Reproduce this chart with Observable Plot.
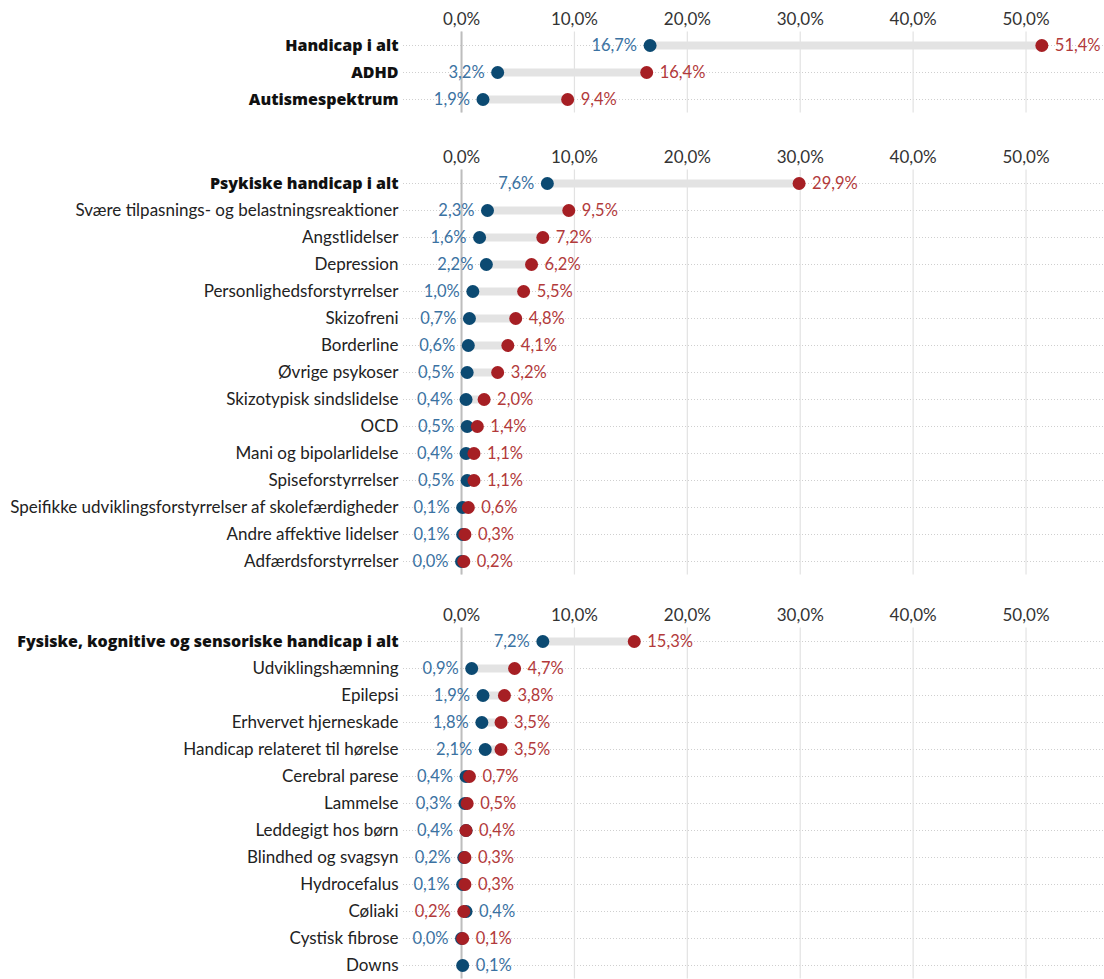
<!DOCTYPE html>
<html><head><meta charset="utf-8">
<script src="https://cdn.jsdelivr.net/npm/d3@7"></script>
<script src="https://cdn.jsdelivr.net/npm/@observablehq/plot@0.6"></script>
<style>
body{margin:0;background:#fff;font-family:Lato,sans-serif}
svg{display:block}
</style>
</head><body><div id="chart"></div>
<script>
// ---- Data ----
const panel1Names = ["Handicap i alt", "ADHD", "Autismespektrum"];
const panel1Blue  = [16.7, 3.2, 1.9];
const panel1Red   = [51.4, 16.4, 9.4];

const panel2Names = ["Psykiske handicap i alt", "Svære tilpasnings- og belastningsreaktioner", "Angstlidelser",
  "Depression", "Personlighedsforstyrrelser", "Skizofreni", "Borderline", "Øvrige psykoser",
  "Skizotypisk sindslidelse", "OCD", "Mani og bipolarlidelse", "Spiseforstyrrelser",
  "Speifikke udviklingsforstyrrelser af skolefærdigheder", "Andre affektive lidelser", "Adfærdsforstyrrelser"];
const panel2Blue = [7.6, 2.3, 1.6, 2.2, 1.0, 0.7, 0.6, 0.5, 0.4, 0.5, 0.4, 0.5, 0.1, 0.1, 0.0];
const panel2Red  = [29.9, 9.5, 7.2, 6.2, 5.5, 4.8, 4.1, 3.2, 2.0, 1.4, 1.1, 1.1, 0.6, 0.3, 0.2];

const panel3Names = ["Fysiske, kognitive og sensoriske handicap i alt", "Udviklingshæmning", "Epilepsi",
  "Erhvervet hjerneskade", "Handicap relateret til hørelse", "Cerebral parese", "Lammelse",
  "Leddegigt hos børn", "Blindhed og svagsyn", "Hydrocefalus", "Cøliaki", "Cystisk fibrose", "Downs"];
const panel3Blue = [7.2, 0.9, 1.9, 1.8, 2.1, 0.4, 0.3, 0.4, 0.2, 0.1, 0.4, 0.0, 0.1];
const panel3Red  = [15.3, 4.7, 3.8, 3.5, 3.5, 0.7, 0.5, 0.4, 0.3, 0.3, 0.2, 0.1, null];

const totalNames = ["Handicap i alt", "ADHD", "Autismespektrum", "Psykiske handicap i alt",
  "Fysiske, kognitive og sensoriske handicap i alt"];
const xTicks = [0, 10, 20, 30, 40, 50];
const xDomain = [-5.14, 56.95];

const BLUE = "#0c4a72", RED = "#a61f24", BLUE_TXT = "#3b72a2", RED_TXT = "#b23a3b";
const fmt = v => d3.format(".1f")(v).replace(".", ",") + "%";

function panel(names, blue, red, height, marginBottom) {
  const rows = names.map((name, i) => ({name, a: blue[i], b: red[i]}));
  const labels = [];
  rows.forEach(r => {
    if (r.b == null) { labels.push({name: r.name, x: r.a, side: "right", color: BLUE_TXT}); return; }
    const blueLeft = r.a <= r.b;
    labels.push({name: r.name, x: blueLeft ? r.a : r.b, side: "left", color: blueLeft ? BLUE_TXT : RED_TXT});
    labels.push({name: r.name, x: blueLeft ? r.b : r.a, side: "right", color: blueLeft ? RED_TXT : BLUE_TXT});
  });
  const isTotal = d => totalNames.includes(d.name);
  return Plot.plot({
    width: 1104, height, marginLeft: 403, marginRight: 0, marginTop: 31.5, marginBottom,
    style: {fontFamily: "Lato, sans-serif", fontSize: "16px", color: "#333", background: "#fff"},
    x: {domain: xDomain},
    y: {type: "point", domain: names, padding: 0.5, axis: null},
    marks: [
      Plot.ruleY(rows, {y: "name", stroke: "#cfcfcf", strokeDasharray: "1,2", strokeWidth: 1}),
      Plot.gridX({ticks: xTicks, stroke: "#e2e2e2", strokeOpacity: 1, strokeWidth: 1.2}),
      Plot.ruleX([0], {stroke: "#bdbdbd", strokeWidth: 2}),
      Plot.axisX({anchor: "top", ticks: xTicks, tickSize: 0, tickPadding: 7, tickFormat: fmt, fontSize: 17, fill: "#333", label: null}),
      Plot.ruleY(rows.filter(r => r.b != null), {y: "name", x1: "a", x2: "b", stroke: "#e3e3e3", strokeWidth: 8}),
      Plot.dot(rows, {y: "name", x: "a", r: 6.5, fill: BLUE}),
      Plot.dot(rows.filter(r => r.b != null), {y: "name", x: "b", r: 6.5, fill: RED}),
      Plot.text(labels.filter(l => l.side === "left"), {y: "name", x: "x", text: d => fmt(d.x), fill: "color", textAnchor: "end", dx: -13, fontSize: 16.5}),
      Plot.text(labels.filter(l => l.side === "right"), {y: "name", x: "x", text: d => fmt(d.x), fill: "color", textAnchor: "start", dx: 13, fontSize: 16.5}),
      Plot.text(rows.filter(isTotal), {y: "name", text: "name", frameAnchor: "left", textAnchor: "end", dx: -5, fontFamily: "Open Sans", fontWeight: 800, fill: "#111", fontSize: 16}),
      Plot.text(rows.filter(d => !isTotal(d)), {y: "name", text: "name", frameAnchor: "left", textAnchor: "end", dx: -5, fill: "#222", fontSize: 17})
    ]
  });
}

const root = document.getElementById("chart");
root.appendChild(panel(panel1Names, panel1Blue, panel1Red, 138, 25.5));
root.appendChild(panel(panel2Names, panel2Blue, panel2Red, 458, 21.5));
root.appendChild(panel(panel3Names, panel3Blue, panel3Red, 383, 0.5));
</script>
</body></html>
